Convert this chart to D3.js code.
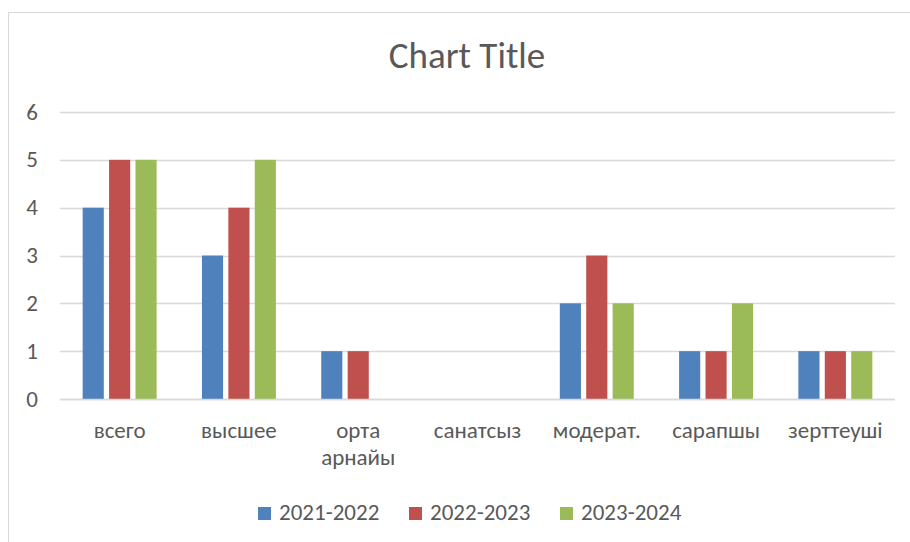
<!DOCTYPE html>
<html>
<head>
<meta charset="utf-8">
<script src="https://cdn.jsdelivr.net/npm/d3@7"></script>
<style>
  body { margin: 0; background: #fff; }
  text { font-family: Calibri, Carlito, "Open Sans", sans-serif; fill: #595959; }
</style>
</head>
<body>
<svg id="chart" width="910" height="542"></svg>
<script>
// данные
const categories = ["всего", "высшее", "орта арнайы", "санатсыз", "модерат.", "сарапшы", "зерттеуші"];
const series = ["2021-2022", "2022-2023", "2023-2024"];
const colors = ["#4F81BD", "#C0504D", "#9BBB59"];
const v2122 = [4, 3, 1, 0, 2, 1, 1];
const v2223 = [5, 4, 1, 0, 3, 1, 1];
const v2324 = [5, 5, 0, 0, 2, 2, 1];
const yTicks = [0, 1, 2, 3, 4, 5, 6];

const values = [v2122, v2223, v2324];

const svg = d3.select("#chart");

// cadre
svg.append("rect")
  .attr("x", 8.5).attr("y", 12.5)
  .attr("width", 1000).attr("height", 1000)
  .attr("fill", "none").attr("stroke", "#D9D9D9");

// titre
svg.append("text")
  .attr("x", 467).attr("y", 68)
  .attr("text-anchor", "middle")
  .attr("font-size", "37px")
  .attr("font-weight", 300)
  .text("Chart Title");

const x = d3.scaleBand().domain(categories).range([60, 895]);
const x1 = d3.scaleBand().domain(series)
  .range([x.bandwidth() * 0.19, x.bandwidth() * 0.81])
  .paddingInner(0.2);
const y = d3.scaleLinear().domain([0, 6]).range([399, 112]);

// grille
svg.append("g").selectAll("line")
  .data(yTicks)
  .join("line")
  .attr("x1", 60).attr("x2", 895)
  .attr("y1", d => Math.round(y(d)) + 0.5)
  .attr("y2", d => Math.round(y(d)) + 0.5)
  .attr("stroke", "#D9D9D9")
  .attr("stroke-width", 1.3);

// labels y
svg.append("g").selectAll("text")
  .data(yTicks)
  .join("text")
  .attr("x", 38)
  .attr("y", d => y(d) + 7.5)
  .attr("text-anchor", "end")
  .attr("font-size", "23px")
  .text(d => d);

// barres
series.forEach(function(s, i) {
  svg.append("g")
    .attr("fill", colors[i])
    .selectAll("rect")
    .data(categories.map((c, j) => ({ c: c, v: values[i][j] })))
    .join("rect")
    .attr("x", d => x(d.c) + x1(s))
    .attr("width", x1.bandwidth())
    .attr("y", d => y(d.v))
    .attr("height", d => y(0) - y(d.v));
});

// axe x
svg.append("line")
  .attr("x1", 60).attr("x2", 895)
  .attr("y1", 399.5).attr("y2", 399.5)
  .attr("stroke", "#D9D9D9")
  .attr("stroke-width", 1.3);

// labels x
svg.append("g").selectAll("text")
  .data(categories)
  .join("text")
  .attr("x", d => x(d) + x.bandwidth() / 2)
  .attr("y", 438)
  .attr("text-anchor", "middle")
  .attr("font-size", "23px")
  .each(function(d) {
    const words = d.split(" ");
    d3.select(this).selectAll("tspan")
      .data(words)
      .join("tspan")
      .attr("x", x(d) + x.bandwidth() / 2)
      .attr("dy", (w, k) => k === 0 ? 0 : 27)
      .text(w => w);
  });

// légende
const legX = [258, 409, 560];
const leg = svg.append("g").selectAll("g")
  .data(series)
  .join("g")
  .attr("transform", (d, i) => "translate(" + legX[i] + ",507)");
leg.append("rect")
  .attr("width", 13).attr("height", 13)
  .attr("fill", (d, i) => colors[i]);
leg.append("text")
  .attr("x", 21).attr("y", 13)
  .attr("font-size", "23px")
  .text(d => d);
</script>
</body>
</html>
